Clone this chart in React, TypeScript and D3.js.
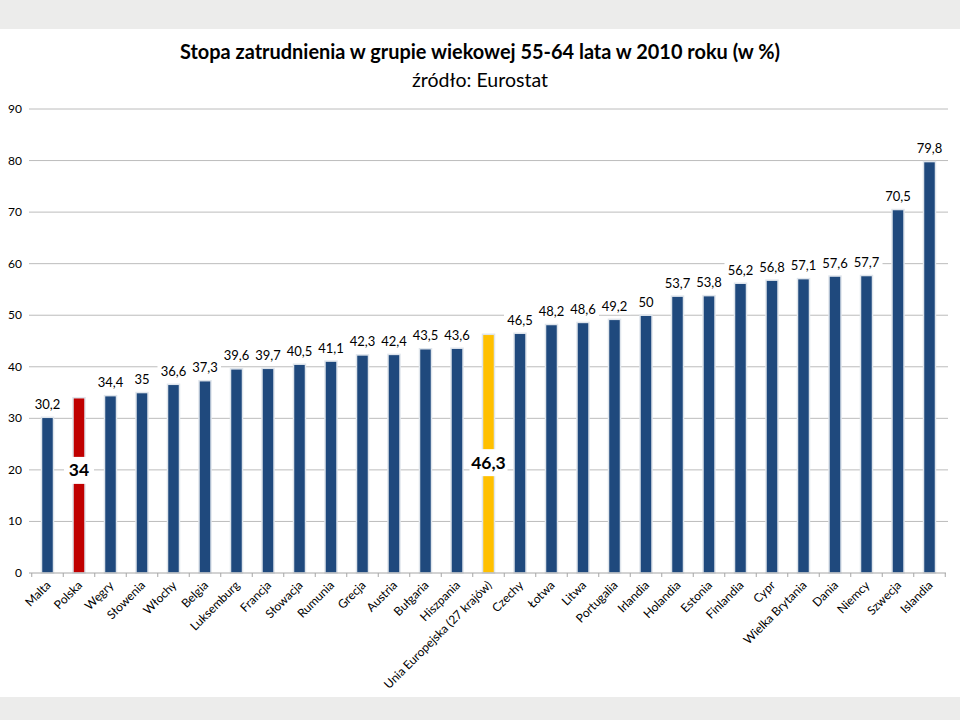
import React from "react";
import * as d3 from "d3";

const categories = [
  "Malta", "Polska", "Węgry", "Słowenia", "Włochy", "Belgia", "Luksemburg", "Francja",
  "Słowacja", "Rumunia", "Grecja", "Austria", "Bułgaria", "Hiszpania",
  "Unia Europejska (27 krajów)", "Czechy", "Łotwa", "Litwa", "Portugalia", "Irlandia",
  "Holandia", "Estonia", "Finlandia", "Cypr", "Wielka Brytania", "Dania", "Niemcy",
  "Szwecja", "Islandia",
];
const values = [
  30.2, 34, 34.4, 35, 36.6, 37.3, 39.6, 39.7, 40.5, 41.1, 42.3, 42.4, 43.5, 43.6,
  46.3, 46.5, 48.2, 48.6, 49.2, 50, 53.7, 53.8, 56.2, 56.8, 57.1, 57.6, 57.7, 70.5, 79.8,
];
const yTicks = [0, 10, 20, 30, 40, 50, 60, 70, 80, 90];
const highlight: Record<string, { color: string; labelAt: number }> = {
  Polska: { color: "#c00000", labelAt: 20 },
  "Unia Europejska (27 krajów)": { color: "#ffc000", labelAt: 21.5 },
};

const W = 960;
const H = 720;
const FONT = "Lato, 'Open Sans', sans-serif";

const fmt = (v: number) => String(v).replace(".", ",");

export default function App() {
  const x = d3.scaleBand<string>().domain(categories).range([31.75, 945.25]).padding(0);
  const y = d3.scaleLinear().domain([0, 90]).range([573, 109]);
  const bw = 12;

  return (
    <div style={{ position: "absolute", left: 0, top: 0 }}>
      <svg width={W} height={H} style={{ display: "block" }}>
        <rect x={0} y={0} width={W} height={H} fill="#ffffff" />
        <rect x={0} y={0} width={W} height={29} fill="#ececeb" />
        <rect x={0} y={697} width={W} height={23} fill="#ececeb" />

        <text x={480} y={59} textAnchor="middle" fontFamily={FONT} fontWeight="bold" fontSize={20}
          textLength={600} lengthAdjust="spacingAndGlyphs" fill="#000">
          Stopa zatrudnienia w grupie wiekowej 55-64 lata w 2010 roku (w %)
        </text>
        <text x={480} y={87} textAnchor="middle" fontFamily={FONT} fontSize={20}
          textLength={136} lengthAdjust="spacingAndGlyphs" fill="#000">
          źródło: Eurostat
        </text>

        {yTicks.map((t) => (
          <g key={t}>
            {t > 0 && (
              <line x1={29} x2={948} y1={y(t)} y2={y(t)} stroke="#bcbcbc" strokeWidth={1} />
            )}
            <text x={22} y={y(t) + 4} textAnchor="end" fontFamily={FONT} fontSize={12} fill="#000">
              {t}
            </text>
          </g>
        ))}

        {categories.map((c, i) => {
          const cx = (x(c) as number) + x.bandwidth() / 2;
          const v = values[i];
          const h = highlight[c];
          const color = h ? h.color : "#1f497d";
          return (
            <g key={c}>
              <rect x={cx - bw / 2} y={y(v)} width={bw} height={y(0) - y(v)} fill={color}
                stroke="#dfe5ec" strokeWidth={1.5} />
            </g>
          );
        })}

        <line x1={29} x2={946} y1={y(0)} y2={y(0)} stroke="#a6a6a6" strokeWidth={1} />
        {d3.range(categories.length + 1).map((i) => {
          const tx = 31.75 + i * x.step();
          return <line key={i} x1={tx} x2={tx} y1={y(0)} y2={y(0) + 4} stroke="#a6a6a6" />;
        })}

        {categories.map((c, i) => {
          const cx = (x(c) as number) + x.bandwidth() / 2;
          const v = values[i];
          const h = highlight[c];
          if (h) {
            const ly = y(h.labelAt);
            const bwid = c === "Polska" ? 30 : 38;
            return (
              <g key={c}>
                <rect x={cx - bwid / 2} y={ly - 13} width={bwid} height={27} fill="#fff" />
                <text x={cx} y={ly + 6.5} textAnchor="middle" fontFamily={FONT} fontWeight="bold"
                  fontSize={17.5} fill="#000">
                  {fmt(v)}
                </text>
              </g>
            );
          }
          const ly = y(v) - 13;
          const s = fmt(v);
          const tw = s.length * 7 + 4;
          return (
            <g key={c}>
              <rect x={cx - tw / 2} y={ly - 8} width={tw} height={16} fill="#fff" />
              <text x={cx} y={ly + 4.5} textAnchor="middle" fontFamily={FONT} fontSize={13} fill="#000">
                {s}
              </text>
            </g>
          );
        })}

        {categories.map((c) => {
          const cx = (x(c) as number) + x.bandwidth() / 2;
          return (
            <text key={c} transform={`translate(${cx + 4},${586}) rotate(-45)`} textAnchor="end"
              fontFamily={FONT} fontSize={12} fill="#000">
              {c}
            </text>
          );
        })}
      </svg>
    </div>
  );
}
